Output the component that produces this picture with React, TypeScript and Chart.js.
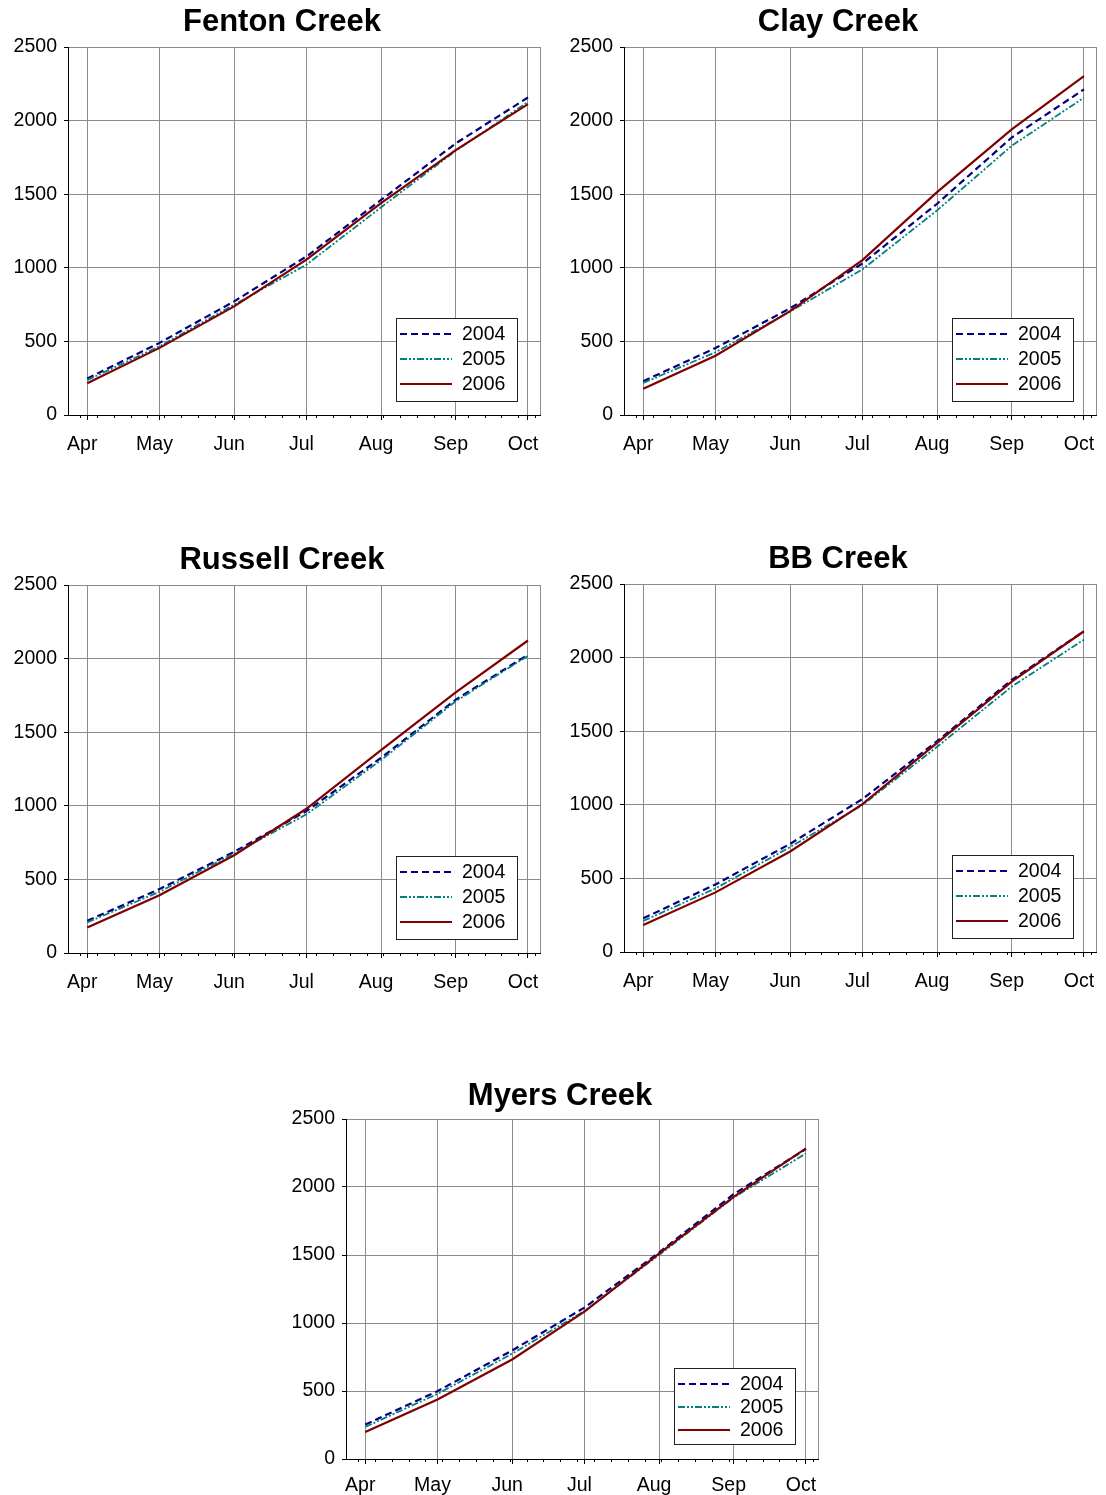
import React, { useEffect, useRef } from "react";
import { Chart, registerables } from "chart.js";

Chart.register(...registerables);

// Month boundaries, counted in days after 1 April
const MONTH_LABELS = ["Apr", "May", "Jun", "Jul", "Aug", "Sep", "Oct"];
const MONTH_DAYS = [0, 30, 61, 91, 122, 153, 183];
const YEARS = ["2004", "2005", "2006"];

// Cumulative values at the start of each month
const fenton2004 = [248, 490, 772, 1077, 1461, 1845, 2157];
const fenton2005 = [237, 467, 750, 1021, 1411, 1795, 2127];
const fenton2006 = [215, 456, 738, 1055, 1439, 1800, 2112];

const clay2004 = [230, 455, 725, 1029, 1435, 1885, 2212];
const clay2005 = [218, 426, 703, 989, 1390, 1829, 2156];
const clay2006 = [178, 403, 706, 1052, 1514, 1941, 2302];

const russell2004 = [219, 434, 687, 964, 1326, 1721, 2026];
const russell2005 = [208, 416, 677, 942, 1310, 1710, 2019];
const russell2006 = [174, 393, 664, 980, 1378, 1771, 2123];

const bb2004 = [229, 459, 735, 1039, 1432, 1848, 2179];
const bb2005 = [211, 432, 713, 998, 1394, 1803, 2122];
const bb2006 = [184, 405, 683, 1005, 1421, 1837, 2179];

const myers2004 = [253, 499, 798, 1113, 1518, 1948, 2279];
const myers2005 = [236, 479, 774, 1088, 1500, 1923, 2247];
const myers2006 = [199, 437, 732, 1083, 1510, 1928, 2284];

const X_MIN = -8;
const X_MAX = 188;
const Y_MAX = 2500;
const Y_STEP = 500;

const FONT = "'Liberation Sans', Arial, Helvetica, sans-serif";
const GRID = "#8c8c8c";
const LINE_STYLES = [
  { color: "#000080", dash: [7, 4], width: 2.2 },
  { color: "#008080", dash: [7, 2, 2, 2, 2, 2], width: 1.8 },
  { color: "#800000", dash: [], width: 2.2 },
];

// weekly minor tick marks along the date axis
const minorDays: number[] = [];
for (let d = -3; d <= X_MAX; d += 7) minorDays.push(d);

const framePlugin = {
  id: "frame",
  beforeDatasetsDraw(chart: any) {
    const { ctx, chartArea: a } = chart;
    ctx.save();
    ctx.strokeStyle = GRID;
    ctx.lineWidth = 1;
    ctx.beginPath();
    ctx.moveTo(Math.round(a.right) + 0.5, a.top);
    ctx.lineTo(Math.round(a.right) + 0.5, a.bottom);
    ctx.stroke();
    ctx.restore();
  },
  afterDraw(chart: any) {
    const { ctx } = chart;
    const x = chart.scales.x;
    ctx.save();
    ctx.strokeStyle = "#000";
    ctx.lineWidth = 1;
    ctx.beginPath();
    minorDays.forEach((d) => {
      const px = Math.round(x.getPixelForValue(d)) + 0.5;
      ctx.moveTo(px, x.top);
      ctx.lineTo(px, x.top + 3);
    });
    ctx.stroke();
    ctx.restore();
  },
};

// chart heading, centred a little left of the plot area's middle
const headingPlugin = {
  id: "heading",
  afterDraw(chart: any, _args: any, opts: any) {
    const { ctx, chartArea: a } = chart;
    ctx.save();
    ctx.fillStyle = "#000";
    ctx.font = `bold 31px ${FONT}`;
    ctx.textAlign = "center";
    ctx.textBaseline = "middle";
    ctx.fillText(opts.text, (a.left + a.right) / 2 - 22, opts.y);
    ctx.restore();
  },
};

const boxLegendPlugin = {
  id: "boxLegend",
  afterDraw(chart: any, _args: any, opts: any) {
    const { ctx, chartArea: a } = chart;
    const w = 121;
    const h = opts.h;
    const right = Math.round(a.right) - 23;
    const bottom = Math.round(a.bottom) - opts.bottomGap;
    const left = right - w;
    const top = bottom - h;
    ctx.save();
    ctx.fillStyle = "#fff";
    ctx.fillRect(left, top, w, h);
    ctx.strokeStyle = "#222";
    ctx.lineWidth = 1;
    ctx.setLineDash([]);
    ctx.strokeRect(left + 0.5, top + 0.5, w, h);
    chart.data.datasets.forEach((ds: any, i: number) => {
      const y = top + opts.first + i * opts.gap;
      ctx.beginPath();
      ctx.setLineDash(ds.borderDash || []);
      ctx.strokeStyle = ds.borderColor;
      ctx.lineWidth = ds.borderWidth;
      ctx.moveTo(left + 4, y);
      ctx.lineTo(left + 56, y);
      ctx.stroke();
      ctx.setLineDash([]);
      ctx.fillStyle = "#000";
      ctx.font = `19.5px ${FONT}`;
      ctx.textBaseline = "middle";
      ctx.textAlign = "left";
      ctx.fillText(ds.label, left + 66, y + 1);
    });
    ctx.restore();
  },
};

type CreekProps = {
  title: string;
  series: number[][];
  left: number;
  top: number;
  height: number;
  axisHeight: number;
  labelPad: number;
  titleY: number;
  legend: { h: number; first: number; gap: number; bottomGap: number };
};

const WIDTH = 545;
const PLOT_LEFT = 68;
const PLOT_RIGHT = 540;
const HEAD = 47;

function CreekChart({ title, series, left, top, height, axisHeight, labelPad, titleY, legend }: CreekProps) {
  const ref = useRef<HTMLCanvasElement | null>(null);

  useEffect(() => {
    if (!ref.current) return;
    const tickFont = { family: FONT, size: 19.5 };
    const chart = new Chart(ref.current, {
      type: "line",
      data: {
        datasets: series.map((vals, i) => ({
          label: YEARS[i],
          data: MONTH_DAYS.map((d, j) => ({ x: d, y: vals[j] })),
          borderColor: LINE_STYLES[i].color,
          borderDash: LINE_STYLES[i].dash,
          borderWidth: LINE_STYLES[i].width,
          pointRadius: 0,
          fill: false,
          tension: 0,
          order: 2 - i,
        })),
      },
      options: {
        animation: false,
        responsive: false,
        layout: { padding: { left: 0, right: WIDTH - PLOT_RIGHT, top: HEAD, bottom: 0 } },
        plugins: {
          legend: { display: false },
          tooltip: { enabled: false },
          title: { display: false },
          heading: { text: title, y: titleY },
          boxLegend: legend,
        } as any,
        scales: {
          x: {
            type: "linear",
            min: X_MIN,
            max: X_MAX,
            afterBuildTicks: (s: any) => {
              s.ticks = MONTH_DAYS.map((v) => ({ value: v }));
            },
            afterFit: (s: any) => {
              s.height = axisHeight;
              s.paddingLeft = 0;
              s.paddingRight = 0;
            },
            ticks: {
              autoSkip: false,
              maxRotation: 0,
              color: "#000",
              font: tickFont,
              padding: labelPad,
              labelOffset: -5,
              callback: (v: any) => {
                const i = MONTH_DAYS.indexOf(Number(v));
                return i >= 0 ? MONTH_LABELS[i] : "";
              },
            },
            grid: { color: GRID, tickColor: "#000", tickLength: 5, lineWidth: 1 },
            border: { color: "#000", width: 1 },
          },
          y: {
            min: 0,
            max: Y_MAX,
            afterFit: (s: any) => {
              s.width = PLOT_LEFT;
              s.paddingTop = 0;
              s.paddingBottom = 0;
            },
            ticks: {
              stepSize: Y_STEP,
              color: "#000",
              font: tickFont,
              padding: 7,
              callback: (v: any) => String(v),
            },
            grid: { color: GRID, tickColor: "#000", tickLength: 4, lineWidth: 1 },
            border: { color: "#000", width: 1 },
          },
        },
      } as any,
      plugins: [framePlugin, headingPlugin, boxLegendPlugin],
    });
    return () => chart.destroy();
  }, []);

  return (
    <canvas
      ref={ref}
      width={WIDTH}
      height={height}
      style={{ position: "absolute", left, top, width: WIDTH, height }}
    />
  );
}

const legendTall = { h: 83, first: 16, gap: 25, bottomGap: 14 };
const legendShort = { h: 76, first: 16, gap: 23, bottomGap: 15 };

export default function App() {
  return (
    <div
      style={{
        position: "absolute",
        left: 0,
        top: 0,
        width: 1106,
        height: 1495,
        overflow: "hidden",
        background: "#fff",
      }}
    >
      <CreekChart title="Fenton Creek" series={[fenton2004, fenton2005, fenton2006]} left={0} top={0} height={455} axisHeight={40} labelPad={13} titleY={22} legend={legendTall} />
      <CreekChart title="Clay Creek" series={[clay2004, clay2005, clay2006]} left={556} top={0} height={455} axisHeight={40} labelPad={13} titleY={22} legend={legendTall} />
      <CreekChart title="Russell Creek" series={[russell2004, russell2005, russell2006]} left={0} top={538} height={455} axisHeight={40} labelPad={13} titleY={22} legend={legendTall} />
      <CreekChart title="BB Creek" series={[bb2004, bb2005, bb2006]} left={556} top={537} height={455} axisHeight={40} labelPad={13} titleY={22} legend={legendTall} />
      <CreekChart title="Myers Creek" series={[myers2004, myers2005, myers2006]} left={278} top={1072} height={423} axisHeight={36} labelPad={10} titleY={24} legend={legendShort} />
    </div>
  );
}
